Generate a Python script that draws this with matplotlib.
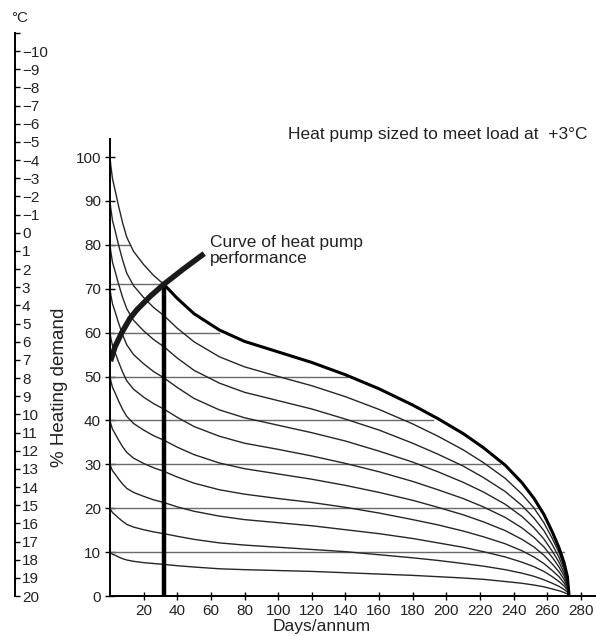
import matplotlib.pyplot as plt

plt.rcParams['font.family'] = ['Liberation Sans', 'DejaVu Sans']

# days on the duration axis, shared by every demand curve
days = [0, 0.5, 1.5, 3, 5, 7.5, 10, 14, 20, 26, 32, 40, 50, 65, 80, 100, 120, 140, 160, 180,
        195, 210, 222, 235, 245, 252, 258, 263, 267, 270, 272, 273]

# % heating demand, one curve per starting level
curve_100 = [100, 98, 95, 92.5, 89, 85, 81.7, 78.5, 75.5, 73, 71, 67.8, 64.3, 60.6, 58, 55.6, 53.2, 50.4,
             47.2, 43.5, 40.4, 37.0, 33.8, 29.8, 25.8, 22.3, 18.6, 14.6, 11, 7.6, 4.4, 0]
curve_90 = [90, 88.2, 85.5, 83.3, 80.1, 76.5, 73.5, 70.7, 68, 65.7, 63.9, 61, 57.9, 54.5, 52.2, 50, 47.9,
            45.4, 42.5, 39.2, 36.4, 33.3, 30.4, 26.8, 23.2, 20.1, 16.7, 13.1, 9.9, 6.8, 4.0, 0]
curve_80 = [80, 78.4, 76, 74, 71.2, 68, 65.4, 62.8, 60.4, 58.4, 56.8, 54.2, 51.4, 48.5, 46.4, 44.5, 42.6,
            40.3, 37.8, 34.8, 32.3, 29.6, 27.0, 23.8, 20.6, 17.8, 14.9, 11.7, 8.8, 6.1, 3.5, 0]
curve_70 = [70, 68.6, 66.5, 64.8, 62.3, 59.5, 57.2, 55, 52.9, 51.1, 49.7, 47.5, 45, 42.4, 40.6, 38.9, 37.2,
            35.3, 33, 30.5, 28.3, 25.9, 23.7, 20.9, 18.1, 15.6, 13.0, 10.2, 7.7, 5.3, 3.1, 0]
curve_60 = [60, 58.8, 57, 55.5, 53.4, 51, 49, 47.1, 45.3, 43.8, 42.6, 40.7, 38.6, 36.4, 34.8, 33.4, 31.9,
            30.2, 28.3, 26.1, 24.2, 22.2, 20.3, 17.9, 15.5, 13.4, 11.2, 8.8, 6.6, 4.6, 2.6, 0]
curve_50 = [50, 49, 47.5, 46.3, 44.5, 42.5, 40.9, 39.3, 37.8, 36.5, 35.5, 33.9, 32.2, 30.3, 29, 27.8, 26.6,
            25.2, 23.6, 21.8, 20.2, 18.5, 16.9, 14.9, 12.9, 11.2, 9.3, 7.3, 5.5, 3.8, 2.2, 0]
curve_40 = [40, 39.2, 38, 37, 35.6, 34, 32.7, 31.4, 30.2, 29.2, 28.4, 27.1, 25.7, 24.2, 23.2, 22.2, 21.3,
            20.2, 18.9, 17.4, 16.2, 14.8, 13.5, 11.9, 10.3, 8.9, 7.4, 5.8, 4.4, 3.0, 1.8, 0]
curve_30 = [30, 29.4, 28.5, 27.8, 26.7, 25.5, 24.5, 23.6, 22.7, 21.9, 21.3, 20.3, 19.3, 18.2, 17.4, 16.7, 16,
            15.1, 14.2, 13.1, 12.1, 11.1, 10.1, 8.9, 7.7, 6.7, 5.6, 4.4, 3.3, 2.3, 1.3, 0]
curve_20 = [20, 19.6, 19, 18.5, 17.8, 17, 16.3, 15.7, 15.1, 14.6, 14.2, 13.6, 12.9, 12.1, 11.6, 11.1, 10.6,
            10.1, 9.4, 8.7, 8.1, 7.4, 6.8, 6.0, 5.2, 4.5, 3.7, 2.9, 2.2, 1.5, 0.9, 0]
curve_10 = [10, 9.8, 9.5, 9.3, 8.9, 8.5, 8.2, 7.9, 7.6, 7.4, 7.2, 6.9, 6.6, 6.2, 6, 5.8, 5.6,
            5.3, 5, 4.7, 4.4, 4.1, 3.8, 3.3, 2.9, 2.5, 2.1, 1.6, 1.2, 0.8, 0.45, 0]
thin_curves = [curve_90, curve_80, curve_70, curve_60, curve_50, curve_40, curve_30, curve_20, curve_10]

# heat pump performance curve
perf_days = [0.3, 3, 7, 12, 16, 24, 32, 43, 56]
perf_demand = [53.5, 56.8, 60, 63.3, 65.2, 68.3, 71, 74.3, 78]

# balance point
balance_day = 32
balance_demand = 71

# horizontal grid lines: level and the day where each one stops
hline_levels = [10, 20, 30, 40, 50, 60, 71, 80]
hline_ends = [270, 255, 232, 192, 141, 65, 32, 12]

y_ticks = [0, 10, 20, 30, 40, 50, 60, 70, 80, 90, 100]
x_ticks = [20, 40, 60, 80, 100, 120, 140, 160, 180, 200, 220, 240, 260, 280]
temp_ticks = [-11, -10, -9, -8, -7, -6, -5, -4, -3, -2, -1, 0, 1, 2, 3, 4, 5, 6, 7, 8, 9,
              10, 11, 12, 13, 14, 15, 16, 17, 18, 19, 20]

fig = plt.figure(figsize=(5.96, 6.36), dpi=100)
ax = fig.add_axes([110 / 596, 40 / 636, 486 / 596, 563 / 636])
ax.set_xlim(0, 289)
ax.set_ylim(0, 128.25)

for lvl, end in zip(hline_levels, hline_ends):
    ax.plot([0, end], [lvl, lvl], "-", c="#6a6a6a", lw=1.0)

for c in thin_curves:
    ax.plot(days, c, "-", c="#262626", lw=1.0)

top_thin = [(d, v) for d, v in zip(days, curve_100) if d <= balance_day]
top_thick = [(d, v) for d, v in zip(days, curve_100) if d >= balance_day]
ax.plot([p[0] for p in top_thin], [p[1] for p in top_thin], "-", c="#262626", lw=1.0)
ax.plot([p[0] for p in top_thick], [p[1] for p in top_thick], "-", c="k", lw=2.2)

ax.plot([balance_day, balance_day], [0, balance_demand], "-", c="k", lw=3.2)
ax.plot(perf_days, perf_demand, "-", c="#1a1a1a", lw=4, solid_capstyle="butt")

for s in ["top", "right"]:
    ax.spines[s].set_visible(False)
ax.spines["left"].set_bounds(0, 104)
ax.spines["left"].set_linewidth(1.4)
ax.spines["bottom"].set_linewidth(1.4)

ax.set_yticks(y_ticks)
ax.set_yticklabels([str(t) for t in y_ticks], fontsize=11, color="#222")
ax.set_xticks(x_ticks)
ax.set_xticklabels([str(t) for t in x_ticks], fontsize=11, color="#222")
ax.tick_params(axis="y", direction="inout", length=7, width=1, pad=3)
ax.tick_params(axis="x", direction="inout", length=6, width=1, pad=3)

ax.set_ylabel("% Heating demand", fontsize=13.5, color="#222")
ax.yaxis.set_label_coords(-0.086, 0.371)
ax.set_xlabel("Days/annum", fontsize=12.5, color="#222")
ax.xaxis.set_label_coords(0.436, -0.040)

# outdoor temperature scale on the far left
ax_t = ax.twinx()
ax_t.set_ylim(20, -11)
for s in ["top", "left", "bottom"]:
    ax_t.spines[s].set_visible(False)
ax_t.spines["right"].set_position(("axes", -0.1955))
ax_t.spines["right"].set_linewidth(1.4)
ax_t.set_yticks(temp_ticks)
ax_t.set_yticklabels(["" if t == -11 else str(t).replace("-", "\u2212") for t in temp_ticks],
                     fontsize=11, color="#222")
ax_t.tick_params(axis="y", direction="out", length=3.5, width=1, pad=1.5)

fig.text(20 / 596, 1 - 18 / 636, "°C", fontsize=11, ha="center", va="center", color="#222")
fig.text(588 / 596, 1 - 135 / 636, "Heat pump sized to meet load at  +3°C",
         fontsize=12.5, ha="right", va="center", color="#222")
fig.text(210 / 596, 1 - 235 / 636, "Curve of heat pump\nperformance",
         fontsize=12.5, ha="left", va="top", linespacing=1.1, color="#222")

fig.savefig("out.png")
